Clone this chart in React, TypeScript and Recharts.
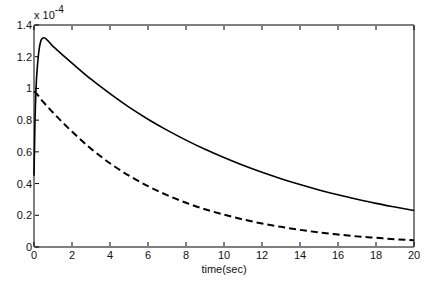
import React from 'react';
import { LineChart, Line, XAxis, YAxis } from 'recharts';

const times = [0, 0.05, 0.1, 0.2, 0.3, 0.4, 0.5, 1, 1.5, 2, 3, 4, 5, 6, 7, 8, 9, 10, 11, 12, 13, 14, 15, 16, 17, 18, 19, 20];
const solidSeries = [0.45, 0.78, 0.98, 1.17, 1.27, 1.31, 1.32, 1.265, 1.212, 1.16, 1.058, 0.967, 0.882, 0.806, 0.737, 0.674, 0.616, 0.564, 0.515, 0.471, 0.431, 0.394, 0.36, 0.329, 0.301, 0.275, 0.252, 0.23];
const dashedSeries = [0.98, 0.976, 0.973, 0.958, 0.943, 0.927, 0.913, 0.848, 0.786, 0.728, 0.62, 0.528, 0.45, 0.384, 0.327, 0.279, 0.238, 0.204, 0.174, 0.148, 0.127, 0.108, 0.092, 0.079, 0.067, 0.058, 0.049, 0.042];
const xTicks = [0, 2, 4, 6, 8, 10, 12, 14, 16, 18, 20];
const yTicks = [0, 0.2, 0.4, 0.6, 0.8, 1, 1.2, 1.4];

const data = times.map((t, i) => ({ t, a: solidSeries[i], b: dashedSeries[i] }));

const FONT = 'Arial, "Liberation Sans", Helvetica, sans-serif';
const TXT = '#111';

const BottomTick = (props: any) => {
  const { x, y, payload } = props;
  return (
    <g>
      <line x1={x} y1={y - 1} x2={x} y2={y - 5} stroke="#000" strokeWidth={1} />
      <text x={x} y={y + 12} textAnchor="middle" fontSize={11} fontFamily={FONT} fill={TXT}>
        {String(payload.value)}
      </text>
    </g>
  );
};

const TopTick = (props: any) => {
  const { x, y } = props;
  return <line x1={x} y1={y + 1} x2={x} y2={y + 5} stroke="#000" strokeWidth={1} />;
};

const LeftTick = (props: any) => {
  const { x, y, payload } = props;
  return (
    <g>
      <line x1={x + 1} y1={y} x2={x + 5} y2={y} stroke="#000" strokeWidth={1} />
      <text x={x - 2} y={y + 4} textAnchor="end" fontSize={11} fontFamily={FONT} fill={TXT}>
        {String(payload.value)}
      </text>
    </g>
  );
};

const RightTick = (props: any) => {
  const { x, y } = props;
  return <line x1={x - 1} y1={y} x2={x - 5} y2={y} stroke="#000" strokeWidth={1} />;
};

export default function App() {
  return (
    <div style={{ position: 'absolute', left: 0, top: 0, width: 436, height: 288, background: '#fff' }}>
      <LineChart
        width={436}
        height={288}
        data={data}
        margin={{ top: 24, right: 21, bottom: 40, left: 33 }}
      >
        <XAxis
          xAxisId="bottom"
          dataKey="t"
          type="number"
          domain={[0, 20]}
          ticks={xTicks}
          height={1}
          tickSize={0}
          tickMargin={0}
          tickLine={false}
          axisLine={{ stroke: '#000' }}
          tick={<BottomTick />}
          interval={0}
        />
        <XAxis
          xAxisId="top"
          orientation="top"
          dataKey="t"
          type="number"
          domain={[0, 20]}
          ticks={xTicks}
          height={1}
          tickSize={0}
          tickMargin={0}
          tickLine={false}
          axisLine={{ stroke: '#000' }}
          tick={<TopTick />}
          interval={0}
        />
        <YAxis
          yAxisId="left"
          type="number"
          domain={[0, 1.4]}
          ticks={yTicks}
          width={1}
          tickSize={0}
          tickMargin={0}
          tickLine={false}
          axisLine={{ stroke: '#000' }}
          tick={<LeftTick />}
          interval={0}
        />
        <YAxis
          yAxisId="right"
          orientation="right"
          type="number"
          domain={[0, 1.4]}
          ticks={yTicks}
          width={1}
          tickSize={0}
          tickMargin={0}
          tickLine={false}
          axisLine={{ stroke: '#000' }}
          tick={<RightTick />}
          interval={0}
        />
        <Line
          xAxisId="bottom"
          yAxisId="left"
          dataKey="a"
          type="monotone"
          stroke="#000"
          strokeWidth={1.6}
          dot={false}
          isAnimationActive={false}
        />
        <Line
          xAxisId="bottom"
          yAxisId="left"
          dataKey="b"
          type="monotone"
          stroke="#000"
          strokeWidth={2}
          strokeDasharray="7 4"
          dot={false}
          isAnimationActive={false}
        />
      </LineChart>
      <div style={{ position: 'absolute', left: 34, top: 10, fontFamily: FONT, fontSize: 11, color: TXT, lineHeight: '11px', whiteSpace: 'nowrap' }}>
        x 10<sup style={{ fontSize: 10, position: 'relative', top: -6, verticalAlign: 'baseline' }}>-4</sup>
      </div>
      <div style={{ position: 'absolute', left: 0, width: 448, top: 263, textAlign: 'center', fontFamily: FONT, fontSize: 11, color: TXT, lineHeight: '13px' }}>
        time(sec)
      </div>
    </div>
  );
}
